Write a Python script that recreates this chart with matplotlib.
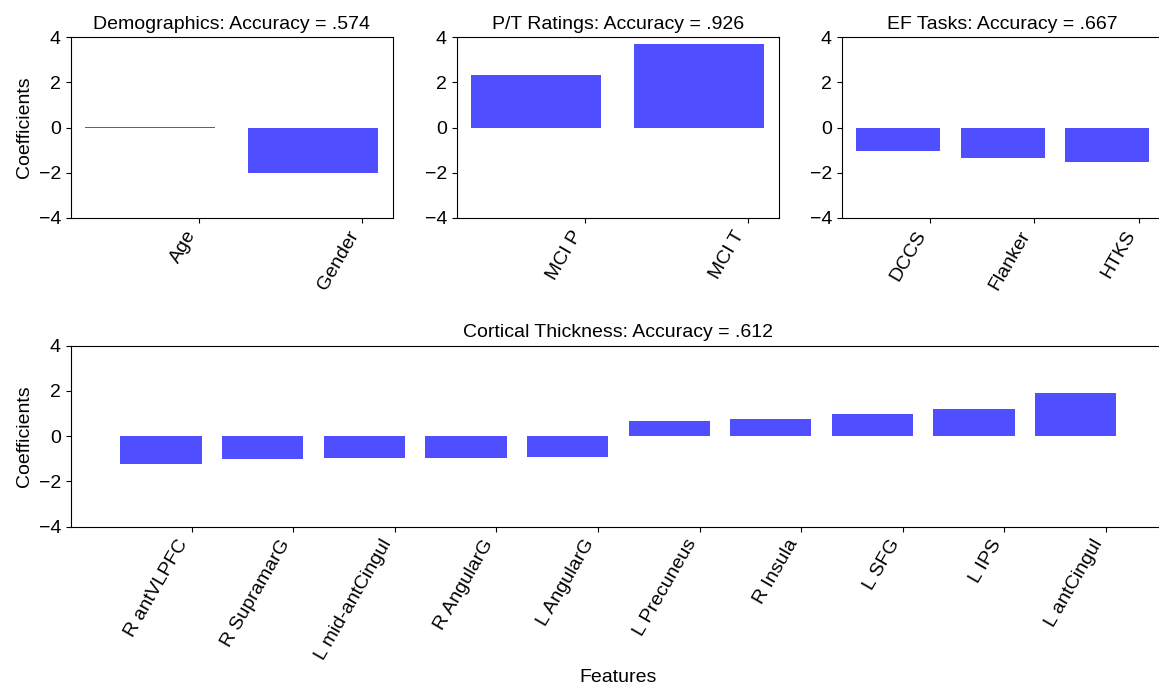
import matplotlib
matplotlib.use('Agg')
import matplotlib.pyplot as plt
import numpy as np

# --------------------------------------------------
# DATOS
# --------------------------------------------------
demo_features = ['Age', 'Gender']
demo_coefs = [0.005, -2.03]
demo_acc = '.574'

pt_features = ['MCI P', 'MCI T']
pt_coefs = [2.34, 3.71]
pt_acc = '.926'

ef_features = ['DCCS', 'Flanker', 'HTKS']
ef_coefs = [-1.05, -1.36, -1.53]
ef_acc = '.667'

ct_features = ['R antVLPFC', 'R SupramarG', 'L mid-antCingul', 'R AngularG',
               'L AngularG', 'L Precuneus', 'R Insula', 'L SFG', 'L IPS',
               'L antCingul']
ct_coefs = [-1.22, -1.00, -0.96, -0.96, -0.91, 0.66, 0.75, 0.97, 1.19, 1.90]
ct_acc = '.612'

# --------------------------------------------------
# ESTILO
# --------------------------------------------------
plt.rcParams['font.family'] = ['Liberation Sans', 'DejaVu Sans']
plt.rcParams['font.size'] = 14
bar_color = '#4f4fff'

W, H = 1159, 693
fig = plt.figure(figsize=(W / 100, H / 100), dpi=100)


def px_axes(left, top, width, height):
    """Crea un eje a partir de coordenadas en píxeles (origen arriba a la izquierda)."""
    return fig.add_axes([left / W, (H - top - height) / H, width / W, height / H])


def draw_panel(ax, features, coefs, title, ylabel=True, xlabel=False):
    x = np.arange(len(features))
    ax.bar(x, coefs, width=0.8, color=bar_color, linewidth=0)
    ax.set_ylim(-4, 4)
    ax.set_yticks([-4, -2, 0, 2, 4])
    # las marcas del eje x están desplazadas respecto al centro de las barras
    ax.set_xticks(x + 0.3)
    ax.set_xticklabels(features, rotation=60, ha='right')
    ax.set_title(title, fontsize=14)
    if ylabel:
        ax.set_ylabel('Coefficients')
    if xlabel:
        ax.set_xlabel('Features')


# --------------------------------------------------
# FILA SUPERIOR
# --------------------------------------------------
ax1 = px_axes(70.7, 37, 322, 181)
draw_panel(ax1, demo_features, demo_coefs, 'Demographics: Accuracy = ' + demo_acc)

ax2 = px_axes(456.7, 37, 322, 181)
draw_panel(ax2, pt_features, pt_coefs, 'P/T Ratings: Accuracy = ' + pt_acc, ylabel=False)

ax3 = px_axes(841.7, 37, 322, 181)
draw_panel(ax3, ef_features, ef_coefs, 'EF Tasks: Accuracy = ' + ef_acc, ylabel=False)

# --------------------------------------------------
# FILA INFERIOR
# --------------------------------------------------
ax4 = px_axes(70.7, 345.7, 1095.3, 181)
draw_panel(ax4, ct_features, ct_coefs, 'Cortical Thickness: Accuracy = ' + ct_acc,
           xlabel=True)

fig.savefig('out.png', dpi=100)
